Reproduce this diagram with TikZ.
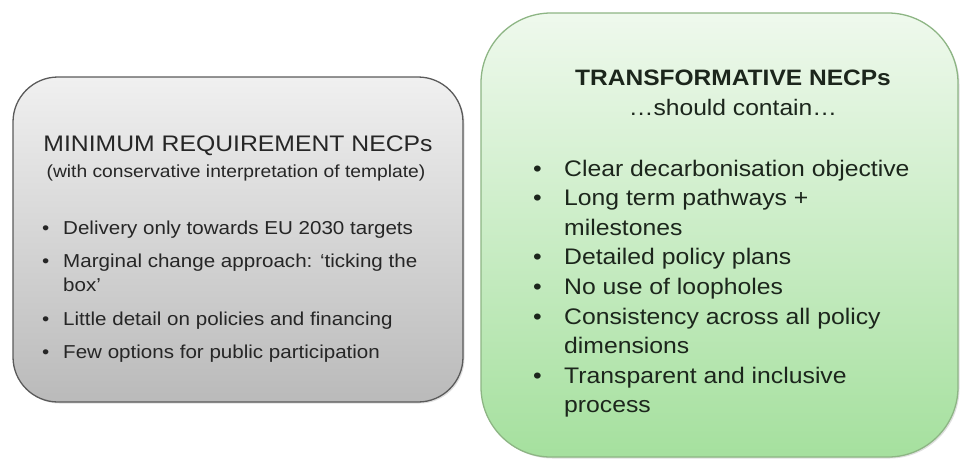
\documentclass[tikz,border=0pt]{standalone}
\usepackage{fontspec}
\setmainfont[FakeStretch=1.1]{Liberation Sans}
\usetikzlibrary{shadows}
\definecolor{lborder}{HTML}{5A5A5A}
\definecolor{ltop}{HTML}{F0F0F0}
\definecolor{lbot}{HTML}{BABABA}
\definecolor{rborder}{HTML}{8DB584}
\definecolor{rtop}{HTML}{EFF9ED}
\definecolor{rbot}{HTML}{A5E09E}
\definecolor{ink}{HTML}{262626}
\definecolor{rink}{HTML}{1C261C}
\begin{document}
\begin{tikzpicture}[x=1pt,y=-1pt,
  panel/.style={draw, line width=1.3pt, inner sep=0pt,
    drop shadow={opacity=0.25, shadow xshift=1.5pt, shadow yshift=-1.5pt}},
  lpanel/.style={panel, draw=lborder, top color=ltop, bottom color=lbot,
    minimum width=450pt, minimum height=325pt, rounded corners=45pt},
  rpanel/.style={panel, draw=rborder, top color=rtop, bottom color=rbot,
    minimum width=477pt, minimum height=444pt, rounded corners=70pt},
  ltitle/.style={anchor=base, inner sep=0pt, text=ink, font=\fontsize{22.5}{27}\selectfont},
  lsub/.style={anchor=base, inner sep=0pt, text=ink, font=\fontsize{17.5}{21}\selectfont},
  ltxt/.style={anchor=base west, inner sep=0pt, text=ink, font=\fontsize{18.7}{22}\selectfont},
  rtitle/.style={anchor=base, inner sep=0pt, text=rink, font=\fontsize{22.3}{27}\selectfont\bfseries},
  rsub/.style={anchor=base, inner sep=0pt, text=rink, font=\fontsize{22.4}{27}\selectfont},
  rtxt/.style={anchor=base west, inner sep=0pt, text=rink, font=\fontsize{22.5}{27}\selectfont}]
\useasboundingbox (0,0) rectangle (960,459);
% panels
\node[lpanel] (lbox) at (238,239.5) {};
\node[rpanel] (rbox) at (719.5,235) {};
% left panel text
\node[ltitle] (lt) at (238,151) {MINIMUM REQUIREMENT NECPs};
\node[lsub] (ls) at (236,177) {(with conservative interpretation of template)};
\node[ltxt] (lb1) at (42,234) {•};
\node[ltxt] (l1) at (63,234) {Delivery only towards EU 2030 targets};
\node[ltxt] (lb2) at (42,267) {•};
\node[ltxt] (l2a) at (63,267) {Marginal change approach: ‘ticking the};
\node[ltxt] (l2b) at (63,291) {box’};
\node[ltxt] (lb3) at (42,325) {•};
\node[ltxt] (l3) at (63,325) {Little detail on policies and financing};
\node[ltxt] (lb4) at (42,358) {•};
\node[ltxt] (l4) at (63,358) {Few options for public participation};
% right panel text
\node[rtitle] (rt) at (733,85) {TRANSFORMATIVE NECPs};
\node[rsub] (rs) at (733,115) {…should contain…};
\node[rtxt] (rb1) at (533,176) {•};
\node[rtxt] (r1) at (564,176) {Clear decarbonisation objective};
\node[rtxt] (rb2) at (533,205.6) {•};
\node[rtxt] (r2a) at (564,205.6) {Long term pathways +};
\node[rtxt] (r2b) at (564,235.2) {milestones};
\node[rtxt] (rb3) at (533,264.8) {•};
\node[rtxt] (r3) at (564,264.8) {Detailed policy plans};
\node[rtxt] (rb4) at (533,294.4) {•};
\node[rtxt] (r4) at (564,294.4) {No use of loopholes};
\node[rtxt] (rb5) at (533,324) {•};
\node[rtxt] (r5a) at (564,324) {Consistency across all policy};
\node[rtxt] (r5b) at (564,353.6) {dimensions};
\node[rtxt] (rb6) at (533,383.2) {•};
\node[rtxt] (r6a) at (564,383.2) {Transparent and inclusive};
\node[rtxt] (r6b) at (564,412.8) {process};
\end{tikzpicture}
\end{document}
